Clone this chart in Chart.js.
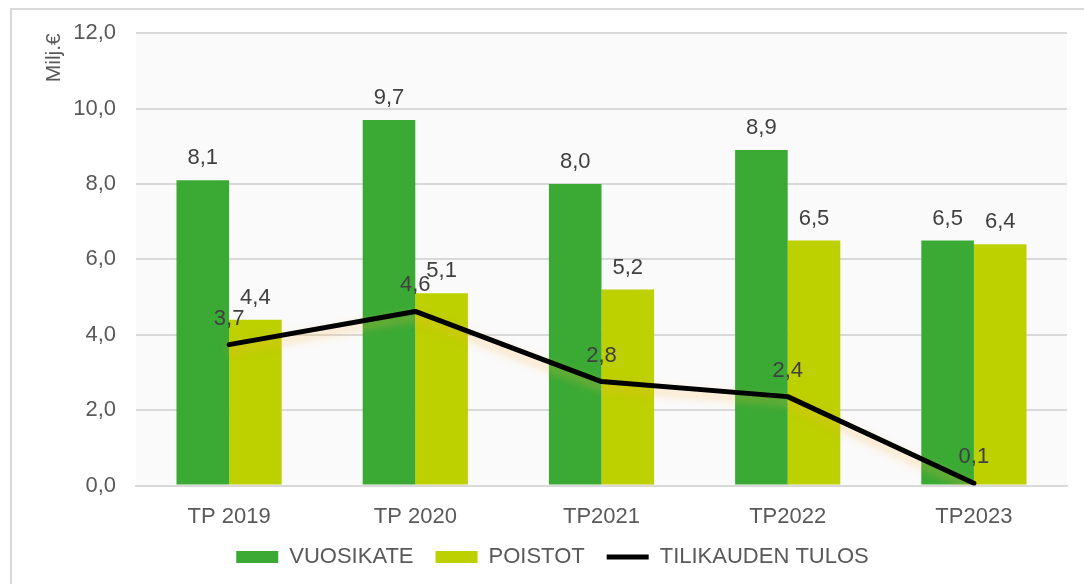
<!DOCTYPE html>
<html>
<head>
<meta charset="utf-8">
<script src="https://cdn.jsdelivr.net/npm/chart.js@4.4.0/dist/chart.umd.min.js"></script>
<style>
  html, body { margin: 0; padding: 0; background: #fff; }
  #frame { position: absolute; left: 10px; top: 8px; width: 1100px; height: 600px; border: 2px solid #d9d9d9; }
  #wrap { position: absolute; left: 0; top: 0; width: 1084px; height: 584px; }
</style>
</head>
<body>
<div id="frame"></div>
<div id="wrap"><canvas id="kuvio" width="1084" height="584"></canvas></div>
<script>
const vuodet = ['TP 2019', 'TP 2020', 'TP2021', 'TP2022', 'TP2023'];
const vuosikate = [8.1, 9.7, 8.0, 8.9, 6.5];
const poistot = [4.4, 5.1, 5.2, 6.5, 6.4];
const tulos = [3.74, 4.62, 2.76, 2.36, 0.06];
const yTicks = [0, 2, 4, 6, 8, 10, 12];

const fmt = v => v.toFixed(1).replace('.', ',');
const FONT = '"Liberation Sans", Arial, sans-serif';

// plot background + value labels (no datalabels plugin available)
const taustaJaArvot = {
  id: 'taustaJaArvot',
  beforeDraw(chart) {
    const { ctx, chartArea: a } = chart;
    ctx.save();
    ctx.fillStyle = '#fafafa';
    ctx.fillRect(a.left, a.top, a.right - a.left, a.bottom - a.top);
    ctx.restore();
  },
  beforeDatasetDraw(chart, args) {
    if (args.index === 2) {
      const ctx = chart.ctx;
      ctx.save();
      ctx.shadowColor = 'rgba(255, 180, 60, 0.45)';
      ctx.shadowBlur = 10;
      ctx.shadowOffsetY = 5;
    }
  },
  afterDatasetDraw(chart, args) {
    if (args.index === 2) chart.ctx.restore();
  },
  afterDatasetsDraw(chart) {
    const ctx = chart.ctx;
    ctx.save();
    ctx.font = '22px ' + FONT;
    ctx.fillStyle = '#404040';
    ctx.textAlign = 'center';
    ctx.textBaseline = 'middle';
    chart.data.datasets.forEach((ds, i) => {
      chart.getDatasetMeta(i).data.forEach((el, j) => {
        const off = i === 2 ? 26 : 22;
        ctx.fillText(fmt(ds.data[j]), el.x, el.y - off);
      });
    });
    ctx.restore();
  }
};

new Chart(document.getElementById('kuvio'), {
  data: {
    labels: vuodet,
    datasets: [
      { type: 'bar', label: 'VUOSIKATE', data: vuosikate, backgroundColor: '#3aaa35', order: 1 },
      { type: 'bar', label: 'POISTOT', data: poistot, backgroundColor: '#bdd000', order: 1 },
      { type: 'line', label: 'TILIKAUDEN TULOS', data: tulos, borderColor: '#000', backgroundColor: '#000',
        borderWidth: 5, pointRadius: 0, borderCapStyle: 'round', borderJoinStyle: 'round', order: 0 }
    ]
  },
  options: {
    responsive: false,
    animation: false,
    layout: { padding: { left: 38, right: 17, top: 33, bottom: 6 } },
    datasets: { bar: { categoryPercentage: 0.565, barPercentage: 1 } },
    plugins: {
      tooltip: { enabled: false },
      legend: {
        position: 'bottom',
        labels: {
          color: '#595959',
          font: { size: 22, family: FONT },
          usePointStyle: true,
          pointStyleWidth: 42,
          boxHeight: 12,
          padding: 22,
          generateLabels(chart) {
            return chart.data.datasets.map((ds, i) => ({
              text: ds.label,
              fillStyle: ds.backgroundColor,
              strokeStyle: ds.type === 'line' ? '#000' : ds.backgroundColor,
              lineWidth: ds.type === 'line' ? 5 : 0,
              pointStyle: ds.type === 'line' ? 'line' : 'rect',
              fontColor: '#595959',
              datasetIndex: i
            }));
          }
        }
      }
    },
    scales: {
      x: {
        grid: { display: false },
        border: { color: '#d9d9d9', width: 2 },
        afterFit(s) { s.height -= 16; },
        ticks: { color: '#595959', padding: 10, font: { size: 22, family: FONT } }
      },
      y: {
        min: 0, max: 12,
        afterBuildTicks(s) { s.ticks = yTicks.map(v => ({ value: v })); },
        afterFit(s) { s.width = 98; },
        grid: { color: '#d9d9d9', lineWidth: 2, drawTicks: false },
        border: { display: false },
        ticks: { color: '#595959', padding: 20, callback: v => fmt(v), font: { size: 22, family: FONT } },
        title: { display: true, text: 'Milj.€', align: 'end', color: '#595959', font: { size: 21, family: FONT } }
      }
    }
  },
  plugins: [taustaJaArvot]
});
</script>
</body>
</html>
